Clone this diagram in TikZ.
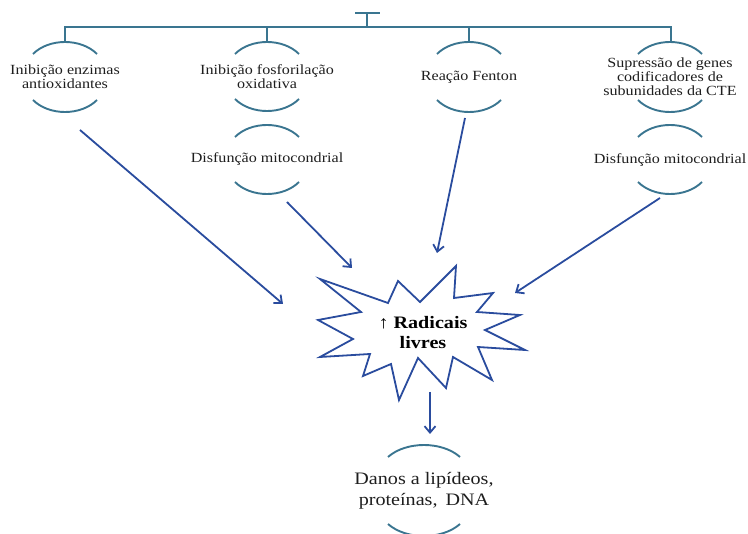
\documentclass[tikz,border=0pt]{standalone}
\usepackage{fontspec}
\setmainfont{Liberation Serif}[FakeStretch=1.15]
\usetikzlibrary{arrows.meta}

\definecolor{treeline}{HTML}{3A7590}
\definecolor{flow}{HTML}{2A4C9E}
\definecolor{ink}{HTML}{1E1E1E}

% pair of curved brackets (top cap and bottom cup) around a label
% #1 = centre x, #2 = top peak y, #3 = bottom y, #4 = half width
\newcommand\capcup[4]{%
  \draw[bracket] ({#1-#4},{#2+12}) .. controls ({#1-#4/2},{#2-4}) and ({#1+#4/2},{#2-4}) .. ({#1+#4},{#2+12});
  \draw[bracket] ({#1-#4},{#3-12}) .. controls ({#1-#4/2},{#3+4}) and ({#1+#4/2},{#3+4}) .. ({#1+#4},{#3-12});
}

\begin{document}
\begin{tikzpicture}[x=1pt,y=-1pt,
  lbl/.style={inner sep=0pt, align=center, text=ink,
    font=\fontsize{14}{13.9}\selectfont},
  biglbl/.style={inner sep=0pt, align=center, text=ink,
    font=\fontsize{17.5}{21.5}\selectfont},
  starlbl/.style={inner sep=0pt, align=center, text=black,
    font=\fontsize{17.5}{20}\selectfont\bfseries},
  bracket/.style={draw=treeline, line width=1.9pt},
  tree/.style={draw=treeline, line width=1.9pt},
  burst/.style={draw=flow, line width=1.8pt, line join=miter},
  flowarrow/.style={draw=flow, line width=1.8pt,
    -{Straight Barb[length=6.5pt,width=11pt]}},
]
\useasboundingbox (0,0) rectangle (748,534);

% ---- tree at the top ----
\coordinate (root) at (367,13);
\coordinate (bus) at (367,27);
\coordinate (p1) at (65,42);
\coordinate (p2) at (267,42);
\coordinate (p3) at (469,42);
\coordinate (p4) at (671,42);
\draw[tree] (355,13) -- (380,13);
\draw[tree] (root) -- (bus);
\draw[tree] (p1) |- (bus) -| (p4);
\draw[tree] (p2) -- (p2 |- bus);
\draw[tree] (p3) -- (p3 |- bus);

% ---- causes ----
\node[lbl] (n1) at (65,77) {Inibição enzimas\\antioxidantes};
\capcup{65}{42}{112}{32}

\node[lbl] (n2) at (267,77) {Inibição fosforilação\\oxidativa};
\capcup{267}{42}{111}{32}
\node[lbl] (n2b) at (267,159) {Disfunção mitocondrial};
\capcup{267}{125}{194}{32}

\node[lbl] (n3) at (469,77) {Reação Fenton};
\capcup{469}{42}{112}{32}

\node[lbl] (n4) at (670,77) {Supressão de genes\\codificadores de\\subunidades da CTE};
\capcup{670}{42}{112}{32}
\node[lbl] (n4b) at (670,160) {Disfunção mitocondrial};
\capcup{670}{125}{194}{32}

% ---- central burst ----
\draw[burst] (320,279) -- (388,303) -- (398,281) -- (420,302) -- (456,266)
  -- (454,298) -- (493,293) -- (477,312) -- (520,315) -- (485,330)
  -- (525,350) -- (478,347) -- (492,380) -- (453,357) -- (446,388)
  -- (418,358) -- (399,400) -- (391,364) -- (363,376) -- (370,354)
  -- (320,357) -- (353,339) -- (318,320) -- (361,312) -- cycle;
\node[starlbl] (rad) at (423,333) {↑ Radicais\\livres};

% ---- consequence ----
\node[biglbl] (dano) at (424,491) {Danos a lipídeos,\\proteínas,\hspace{3pt} DNA};
\capcup{424}{445}{536}{36}

% ---- arrows ----
\coordinate (s1) at (80,130);  \coordinate (e1) at (283,304);
\coordinate (s2) at (287,202); \coordinate (e2) at (352,268);
\coordinate (s3) at (465,118); \coordinate (e3) at (437,253);
\coordinate (s4) at (660,198); \coordinate (e4) at (515,293);
\coordinate (s5) at (430,392); \coordinate (e5) at (430,434);
\draw[flowarrow] (s1) -- (e1);
\draw[flowarrow] (s2) -- (e2);
\draw[flowarrow] (s3) -- (e3);
\draw[flowarrow] (s4) -- (e4);
\draw[flowarrow] (s5) -- (e5);
\end{tikzpicture}
\end{document}
